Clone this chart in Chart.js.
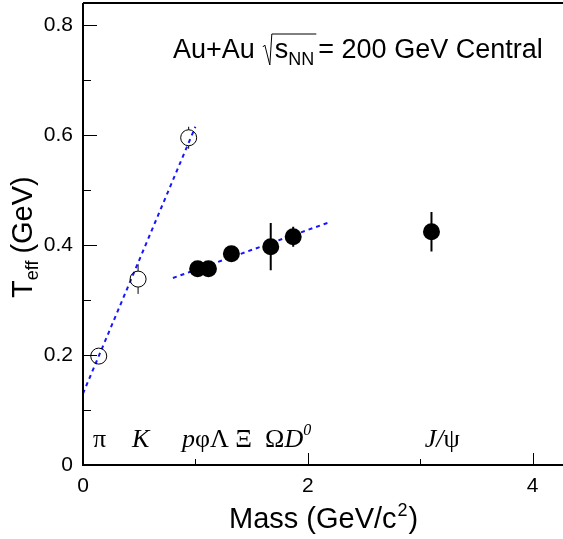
<!DOCTYPE html>
<html>
<head>
<meta charset="utf-8">
<script src="https://cdn.jsdelivr.net/npm/chart.js@4/dist/chart.umd.min.js"></script>
<style>
  html, body { margin: 0; padding: 0; background: #fff; }
  #wrap { width: 563px; height: 539px; position: relative; }
</style>
</head>
<body>
<div id="wrap"><canvas id="teffCanvas"></canvas></div>
<script>
// open symbols: pi, K, p
const openMass = [0.14, 0.49, 0.94];
const openTeff = [0.198, 0.338, 0.595];
const openErr = [0.0, 0.027, 0.02];

// filled symbols: phi, Lambda, Xi, Omega, D0, J/psi
const fullMass = [1.02, 1.116, 1.32, 1.67, 1.87, 3.1];
const fullTeff = [0.357, 0.357, 0.384, 0.397, 0.415, 0.424];
const fullErr = [0.0, 0.0, 0.0, 0.043, 0.018, 0.036];

// dotted fit lines (mass, Teff at both ends)
const fitLightMass = [0.0, 1.0];
const fitLightTeff = [0.13, 0.615];
const fitHeavyMass = [0.8, 2.2];
const fitHeavyTeff = [0.34, 0.442];

const xTickValues = [0, 2, 4];
const xMinorValues = [1, 3];
const yTickValues = [0, 0.2, 0.4, 0.6, 0.8];
const yMinorValues = [0.1, 0.3, 0.5, 0.7];

// particle names along the bottom: [mass where text starts, pieces [text, italic, superscript]]
const particleLabels = [
    [0.09, [['π', false]]],
    [0.436, [['K', true]]],
    [0.88, [['p', true], ['φ', false], ['Λ', false], [' ', false], ['Ξ', false]]],
    [1.62, [['Ω', false], ['D', true], ['0', true, true]]],
    [3.04, [['J', true], ['/', true], ['ψ', false]]]
];

const toPoints = (xs, ys) => xs.map((x, i) => ({ x: x, y: ys[i] }));

const sansFont = '"Liberation Sans", Arial, Helvetica, sans-serif';
const serifFont = '"Liberation Serif", "Times New Roman", serif';

// frame, inward ticks, error bars and all text
const decorPlugin = {
    id: 'decor',
    beforeDatasetsDraw(chart) {
        const ctx = chart.ctx;
        const xs = chart.scales.x, ys = chart.scales.y;
        ctx.save();
        ctx.strokeStyle = '#000';
        const bar = (m, t, e, r, w) => {
            if (!e) return;
            const px = xs.getPixelForValue(m);
            const pc = ys.getPixelForValue(t);
            const top = ys.getPixelForValue(t + e);
            const bot = ys.getPixelForValue(t - e);
            ctx.lineWidth = w;
            ctx.beginPath();
            if (top < pc - r) { ctx.moveTo(px, top); ctx.lineTo(px, pc - r); }
            if (bot > pc + r) { ctx.moveTo(px, pc + r); ctx.lineTo(px, bot); }
            ctx.stroke();
        };
        openMass.forEach((m, i) => bar(m, openTeff[i], openErr[i], 8, 1));
        fullMass.forEach((m, i) => bar(m, fullTeff[i], fullErr[i], 0, 2));
        ctx.restore();
    },
    afterDraw(chart) {
        const ctx = chart.ctx;
        const area = chart.chartArea;
        const xs = chart.scales.x, ys = chart.scales.y;
        ctx.save();

        // axis ticks pointing into the frame
        ctx.strokeStyle = '#000';
        ctx.lineWidth = 1;
        ctx.beginPath();
        yTickValues.forEach(v => { const p = Math.round(ys.getPixelForValue(v)) + 0.5; ctx.moveTo(area.left, p); ctx.lineTo(area.left + 14, p); });
        yMinorValues.forEach(v => { const p = Math.round(ys.getPixelForValue(v)) + 0.5; ctx.moveTo(area.left, p); ctx.lineTo(area.left + 8, p); });
        xTickValues.forEach(v => { const p = Math.round(xs.getPixelForValue(v)) + 0.5; ctx.moveTo(p, area.bottom); ctx.lineTo(p, area.bottom - 12); });
        xMinorValues.forEach(v => { const p = Math.round(xs.getPixelForValue(v)) + 0.5; ctx.moveTo(p, area.bottom); ctx.lineTo(p, area.bottom - 6); });
        ctx.stroke();

        // frame lines
        ctx.lineWidth = 2;
        ctx.beginPath();
        ctx.moveTo(area.left, area.top);
        ctx.lineTo(area.left, area.bottom);
        ctx.lineTo(area.right, area.bottom);
        ctx.moveTo(area.left, area.top);
        ctx.lineTo(area.right, area.top);
        ctx.stroke();

        ctx.fillStyle = '#000';
        ctx.textBaseline = 'alphabetic';
        ctx.textAlign = 'left';

        // x axis title
        ctx.font = '29px ' + sansFont;
        let x = 229;
        const xb = 528;
        ctx.fillText('Mass (GeV/c', x, xb);
        x += ctx.measureText('Mass (GeV/c').width;
        ctx.font = '18px ' + sansFont;
        ctx.fillText('2', x + 1, xb - 12);
        x += ctx.measureText('2').width + 2;
        ctx.font = '29px ' + sansFont;
        ctx.fillText(')', x, xb);

        // y axis title, rotated
        ctx.save();
        ctx.translate(32, 298);
        ctx.rotate(-Math.PI / 2);
        ctx.font = '29px ' + sansFont;
        let yx = 0;
        ctx.fillText('T', yx, 0);
        yx += ctx.measureText('T').width;
        ctx.font = '18px ' + sansFont;
        ctx.fillText('eff', yx, 6);
        yx += ctx.measureText('eff').width + 7;
        ctx.font = '29px ' + sansFont;
        ctx.fillText('(GeV)', yx, 0);
        ctx.restore();

        // collision system annotation
        const ab = 58;
        let ax = 173;
        ctx.font = '27px ' + sansFont;
        ctx.fillText('Au+Au', ax, ab);
        ax += ctx.measureText('Au+Au').width + 10;
        const sw = ctx.measureText('s').width;
        ctx.font = '18px ' + sansFont;
        const nw = ctx.measureText('NN').width;
        ctx.lineWidth = 1;
        ctx.beginPath();
        ctx.moveTo(ax - 2, ab - 11);
        ctx.lineTo(ax, ab - 13);
        ctx.lineTo(ax + 5, ab + 7);
        ctx.lineTo(ax + 7, ab - 24);
        ctx.lineTo(ax + 10 + sw + nw + 2, ab - 24);
        ctx.stroke();
        ax += 10;
        ctx.font = '27px ' + sansFont;
        ctx.fillText('s', ax, ab);
        ax += sw;
        ctx.font = '18px ' + sansFont;
        ctx.fillText('NN', ax, ab + 7);
        ax += nw + 4;
        ctx.font = '27px ' + sansFont;
        ctx.fillText('= 200 GeV Central', ax, ab);

        // particle names
        const lb = ys.getPixelForValue(0.033);
        particleLabels.forEach(([m, parts]) => {
            let px = xs.getPixelForValue(m);
            parts.forEach(([txt, ital, sup]) => {
                ctx.font = (ital ? 'italic ' : '') + (sup ? '16px ' : '26px ') + serifFont;
                ctx.fillText(txt, px, sup ? lb - 12 : lb);
                px += ctx.measureText(txt).width;
            });
        });

        ctx.restore();
    }
};

const ctx = document.getElementById('teffCanvas').getContext('2d');
new Chart(ctx, {
    type: 'scatter',
    data: {
        datasets: [
            {
                label: 'fit light',
                type: 'line',
                data: toPoints(fitLightMass, fitLightTeff),
                borderColor: '#1515ff',
                borderWidth: 2,
                borderDash: [4, 4],
                pointRadius: 0,
                fill: false,
                order: 5
            },
            {
                label: 'fit heavy',
                type: 'line',
                data: toPoints(fitHeavyMass, fitHeavyTeff),
                borderColor: '#1515ff',
                borderWidth: 2,
                borderDash: [4, 4],
                pointRadius: 0,
                fill: false,
                order: 5
            },
            {
                label: 'pi K p',
                data: toPoints(openMass, openTeff),
                pointStyle: 'circle',
                pointRadius: 8,
                pointBorderWidth: 1,
                pointBorderColor: '#000',
                pointBackgroundColor: 'rgba(0,0,0,0)',
                order: 1
            },
            {
                label: 'multi-strange and charm',
                data: toPoints(fullMass, fullTeff),
                pointStyle: 'circle',
                pointRadius: 8.5,
                pointBorderWidth: 0,
                pointBackgroundColor: '#000',
                order: 1
            }
        ]
    },
    options: {
        responsive: true,
        maintainAspectRatio: false,
        animation: false,
        layout: { padding: { top: 3, right: 0, bottom: 0, left: 0 }, autoPadding: false },
        plugins: {
            legend: { display: false },
            tooltip: { enabled: false }
        },
        scales: {
            x: {
                type: 'linear',
                min: 0,
                max: 4.27,
                afterFit: s => { s.height = 74; s.paddingLeft = 0; s.paddingRight = 0; },
                afterBuildTicks: s => { s.ticks = xTickValues.map(v => ({ value: v })); },
                grid: { display: false, drawTicks: false },
                border: { display: false },
                ticks: {
                    autoSkip: false,
                    maxRotation: 0,
                    padding: 9,
                    color: '#000',
                    font: { family: sansFont, size: 21 },
                    callback: v => String(v)
                }
            },
            y: {
                type: 'linear',
                min: 0,
                max: 0.84,
                afterFit: s => { s.width = 83; s.paddingTop = 0; s.paddingBottom = 0; },
                afterBuildTicks: s => { s.ticks = yTickValues.map(v => ({ value: v })); },
                grid: { display: false, drawTicks: false },
                border: { display: false },
                ticks: {
                    autoSkip: false,
                    padding: 10,
                    color: '#000',
                    font: { family: sansFont, size: 21 },
                    callback: v => (v === 0 ? '0' : v.toFixed(1))
                }
            }
        }
    },
    plugins: [decorPlugin]
});
</script>
</body>
</html>
